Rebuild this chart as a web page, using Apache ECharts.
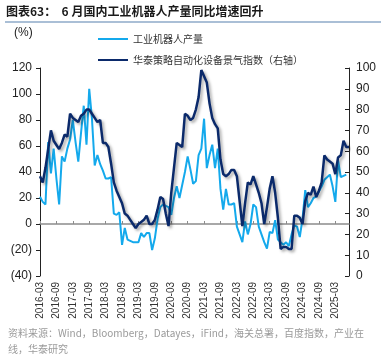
<!DOCTYPE html>
<html><head><meta charset="utf-8">
<script src="https://cdn.jsdelivr.net/npm/echarts@6/dist/echarts.min.js"></script>
<style>html,body{margin:0;padding:0;background:#fff}#c{width:388px;height:359px}</style>
</head><body><div id="c"></div>
<script>
// Monthly categories 2016-03 .. 2025-08
const categories = (function(){const a=[];for(let y=2016;y<=2025;y++){for(let m=1;m<=12;m++){if(y===2016&&m<3)continue;if(y===2025&&m>8)continue;a.push(y+'-'+(m<10?'0'+m:m));}}return a;})();

// 工业机器人产量 同比 (%), left axis
const robotOutputYoY = [
 21,17,15,63,39,58,35,15,52,48,
 58,65,80,63,48,70,91,61,104,81,
 45,53,46,41,35,35,36,8,7,9,
 -16,-3,-12,-13,-14,-14,-14,-7,-10,-7,
 -7,-20,-11,4,13,15,14,13,7,20,
 29,20,30,40,52,42,31,33,53,58,
 81,43,53,61,43,58,27,11,27,15,
 15,16,-2,-8,-14,2,-8,0,15,13,
 -2,-8,-14,-19,-6,-7,3,-12,-14,-16,
 -14,-17,-8,-1,-2,-10,4,26,13,16,
 20,21,25,29,34,36,38,29,17,49,
 36,37,38
];

// 华泰策略自动化设备景气指数, right axis
const automationIndex = [
 48,45,52,61,70,65,63,61,64,68,
 67,78,76,75,74,77,78,80,80,78,
 76,74,75,64,64,62,54,45,41,38,
 35,30,29,27,25,23,25,26,27,29,
 25,25,27,32,38,37,30,24,40,52,
 64,63,62,78,77,75,76,80,86,99,
 96,93,83,76,73,71,56,49,48,49,
 51,51,48,36,24,35,45,44,48,44,
 40,35,25,33,42,48,40,28,13,14,
 14,13,13,29,29,28,25,36,40,39,
 43,38,41,45,58,56,55,54,49,57,
 58,65,62,62
];

const leftAxisRange = {min:-40, max:120, interval:20};
const rightAxisRange = {min:0, max:100, interval:10};
const seriesNames = ['工业机器人产量','华泰策略自动化设备景气指数（右轴）'];

const chart = echarts.init(document.getElementById('c'), null, {renderer:'canvas'});
const latin = '"Liberation Sans", Arial, sans-serif';
const cjk = '"Noto Sans CJK SC", sans-serif';
chart.setOption({
  animation:false,
  backgroundColor:'#fff',
  grid:{left:40, right:39, top:68, bottom:83, containLabel:false},
  legend:{
    orient:'vertical', left:92, top:29, itemWidth:30, itemHeight:10, itemGap:11,
    itemStyle:{opacity:0},
    textStyle:{fontSize:10, color:'#333', fontFamily:cjk},
    data:seriesNames
  },
  xAxis:[
    {type:'category', data:categories, boundaryGap:false,
     axisLine:{show:false, onZero:false}, axisTick:{show:false},
     axisLabel:{interval:5, rotate:90, fontSize:10, color:'#333', fontFamily:latin, margin:6}},
    {type:'category', data:categories, boundaryGap:false, position:'bottom',
     axisLine:{show:true, onZero:true, onZeroAxisIndex:0, lineStyle:{color:'#8c8c8c', width:1.5}},
     axisTick:{show:true, interval:5, inside:true, length:3, lineStyle:{color:'#8c8c8c'}},
     axisLabel:{show:false}}
  ],
  yAxis:[
    {type:'value', min:leftAxisRange.min, max:leftAxisRange.max, interval:leftAxisRange.interval,
     axisLine:{show:true, lineStyle:{color:'#222', width:1}},
     axisTick:{show:true, length:4, lineStyle:{color:'#222'}},
     splitLine:{show:false},
     axisLabel:{fontSize:12, color:'#222', fontFamily:latin, margin:8,
       formatter:v=> v<0 ? '('+(-v)+')' : String(v)}},
    {type:'value', min:rightAxisRange.min, max:rightAxisRange.max, interval:rightAxisRange.interval,
     axisLine:{show:true, lineStyle:{color:'#222', width:1}},
     axisTick:{show:true, inside:true, length:4, lineStyle:{color:'#222'}},
     splitLine:{show:false},
     axisLabel:{fontSize:12, color:'#222', fontFamily:latin, margin:7}}
  ],
  series:[
    {name:seriesNames[0], type:'line', xAxisIndex:0, yAxisIndex:0, data:robotOutputYoY,
     symbol:'none', lineStyle:{color:'#14A9EC', width:2}, itemStyle:{color:'#14A9EC'}},
    {name:seriesNames[1], type:'line', xAxisIndex:0, yAxisIndex:1, data:automationIndex,
     symbol:'none', lineStyle:{color:'#0B2A6B', width:2.5, shadowColor:'rgba(0,0,0,0.35)', shadowBlur:3, shadowOffsetX:2, shadowOffsetY:2},
     itemStyle:{color:'#0B2A6B'}}
  ],
  graphic:[
    {type:'text', left:6, top:5, style:{text:'图表63：  6 月国内工业机器人产量同比增速回升', font:'bold 12px '+cjk, fill:'#1a1a1a'}},
    {type:'line', shape:{x1:5, y1:22, x2:381, y2:22}, style:{stroke:'#8EAAC9', lineWidth:1.5}},
    {type:'text', left:14, top:27, style:{text:'(%)', font:'12px '+latin, fill:'#222'}},
    {type:'text', left:8, top:325, style:{text:'资料来源：Wind，Bloomberg，Datayes，iFind，海关总署，百度指数，产业在\n线，华泰研究', font:'10px '+cjk, fill:'#9a9a9a', lineHeight:16}}
  ]
});
</script></body></html>
